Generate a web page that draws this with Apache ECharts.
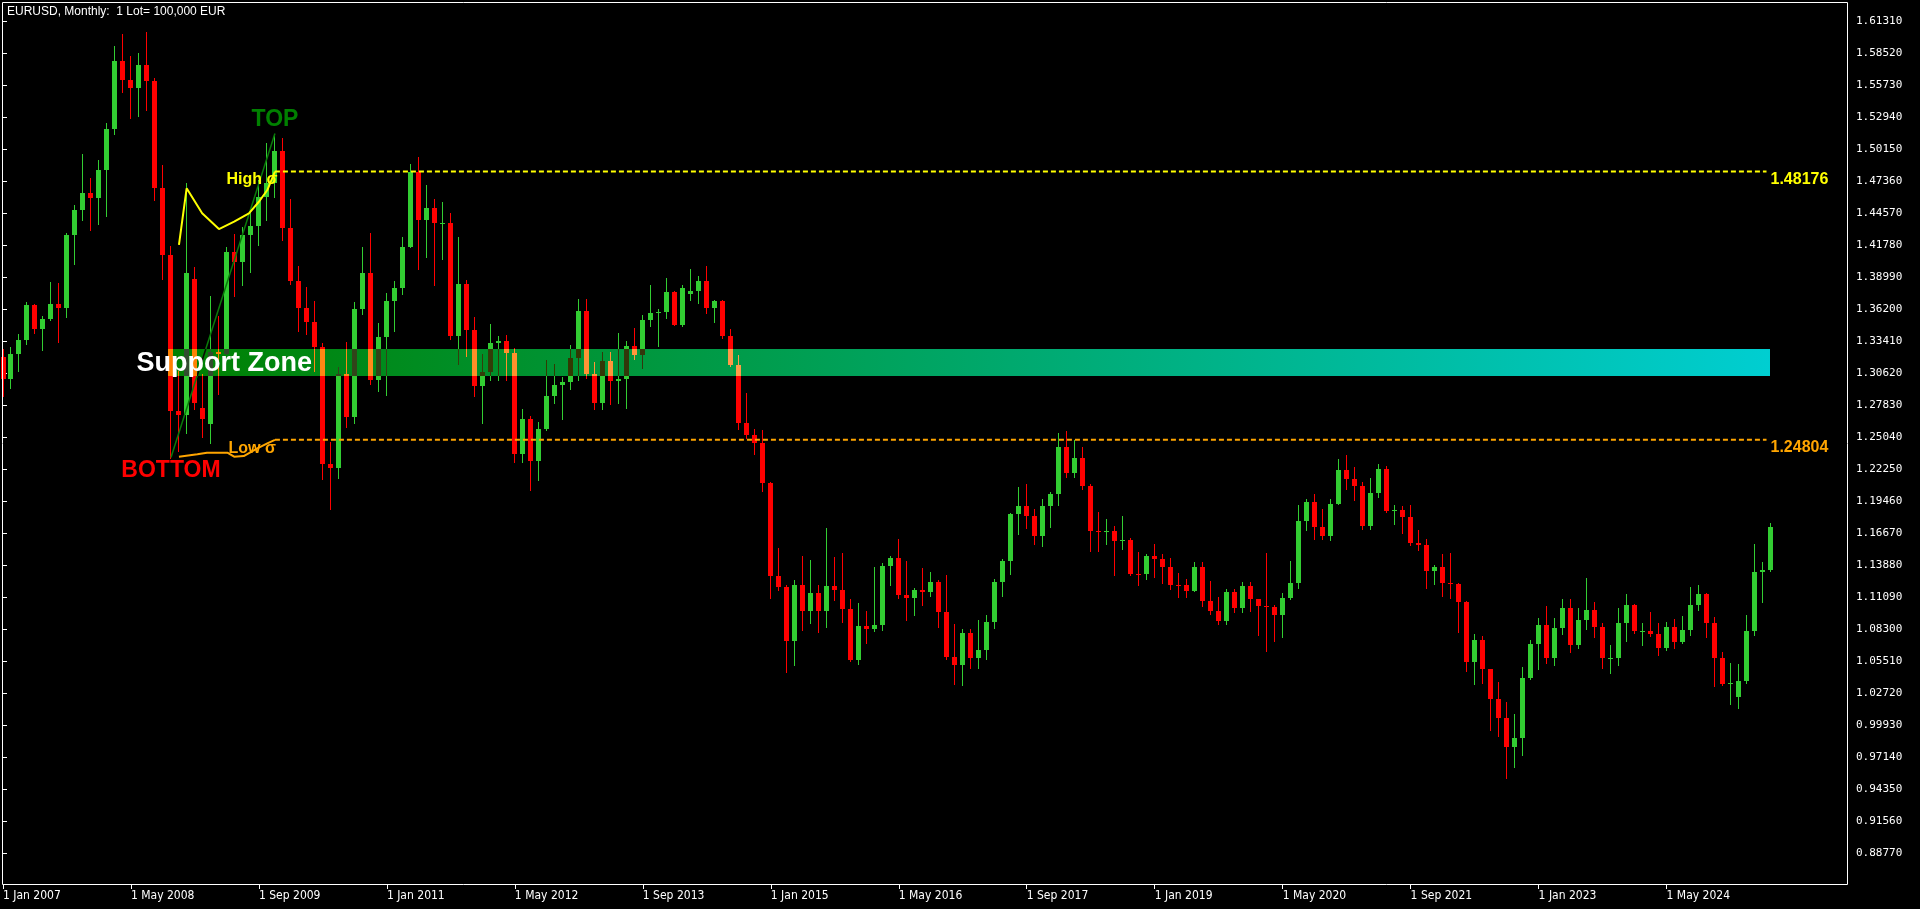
<!DOCTYPE html>
<html><head><meta charset="utf-8">
<script src="https://cdn.jsdelivr.net/npm/echarts@6/dist/echarts.min.js"></script>
<style>html,body{margin:0;padding:0;background:#000;overflow:hidden}#c{width:1920px;height:909px}</style>
</head><body><div id="c"></div>
<script>
// ---- EURUSD monthly, Jan 2007 .. Jun 2025 (index 0 = Jan 2007) ----
const opens = [
1.3200,1.3010,1.3227,1.3354,1.3652,1.3449,1.3532,1.3667,1.3627,1.4264,1.4480,1.4630,
1.4590,1.4835,1.5185,1.5784,1.5612,1.5547,1.5750,1.5605,1.4675,1.4090,1.2728,1.2695,
1.3880,1.2760,1.2620,1.3245,1.3232,1.4121,1.4034,1.4261,1.4340,1.4600,1.4720,1.5000,
1.4325,1.3865,1.3625,1.3510,1.3290,1.2268,1.2235,1.3050,1.2680,1.3621,1.3930,1.3000,
1.3380,1.3690,1.3805,1.4160,1.4810,1.4400,1.4500,1.4370,1.4372,1.3385,1.3840,1.3440,
1.2945,1.3075,1.3325,1.3345,1.3235,1.2355,1.2660,1.2295,1.2575,1.2860,1.2958,1.2987,
1.3193,1.3600,1.3050,1.2805,1.3165,1.2995,1.3010,1.3300,1.3220,1.3525,1.3585,1.3590,
1.3770,1.3485,1.3752,1.3775,1.3868,1.3630,1.3690,1.3385,1.3130,1.2630,1.2525,1.2450,
1.2100,1.1290,1.1195,1.0730,1.1215,1.0985,1.1145,1.0985,1.1210,1.1175,1.1005,1.0565,
1.0860,1.0830,1.0870,1.1380,1.1450,1.1130,1.1105,1.1175,1.1155,1.1240,1.0980,1.0590,
1.0520,1.0800,1.0575,1.0650,1.0895,1.1240,1.1425,1.1830,1.1905,1.1815,1.1645,1.1905,
1.2005,1.2415,1.2190,1.2325,1.2080,1.1690,1.1685,1.1690,1.1600,1.1605,1.1312,1.1308,
1.1465,1.1445,1.1370,1.1215,1.1212,1.1165,1.1370,1.1075,1.0985,1.0900,1.1150,1.1015,
1.1210,1.1090,1.1030,1.1025,1.0955,1.1100,1.1235,1.1775,1.1935,1.1720,1.1645,1.1925,
1.2215,1.2135,1.2075,1.1730,1.2020,1.2225,1.1860,1.1870,1.1805,1.1580,1.1560,1.1335,
1.1370,1.1235,1.1220,1.1065,1.0545,1.0735,1.0485,1.0225,1.0055,0.9800,0.9885,1.0405,
1.0705,1.0865,1.0575,1.0840,1.1015,1.0690,1.0910,1.0995,1.0845,1.0575,1.0577,1.0885,
1.1040,1.0815,1.0817,1.0790,1.0665,1.0850,1.0715,1.0825,1.1045,1.1135,1.0885,1.0575,
1.0355,1.0236,1.0375,1.0815,1.1325,1.1345
];
const highs = [
1.3268,1.3290,1.3400,1.3682,1.3665,1.3560,1.3852,1.3845,1.4280,1.4527,1.4967,1.4765,
1.4922,1.5242,1.5911,1.6019,1.5824,1.5847,1.6038,1.5629,1.4872,1.4168,1.3081,1.4721,
1.3985,1.3053,1.3737,1.3560,1.4159,1.4276,1.4334,1.4494,1.4741,1.5063,1.5149,1.5110,
1.4581,1.3995,1.3810,1.3690,1.3320,1.2457,1.3112,1.3333,1.3685,1.4157,1.4282,1.3500,
1.3760,1.3862,1.4249,1.4881,1.4945,1.4697,1.4580,1.4549,1.4456,1.4244,1.3872,1.3550,
1.3231,1.3487,1.3385,1.3390,1.3283,1.2748,1.2692,1.2637,1.3172,1.3140,1.3030,1.3308,
1.3711,1.3711,1.3160,1.3243,1.3243,1.3415,1.3345,1.3452,1.3568,1.3832,1.3620,1.3893,
1.3775,1.3825,1.3967,1.3905,1.3993,1.3700,1.3700,1.3444,1.3222,1.2887,1.2577,1.2570,
1.2110,1.1534,1.1215,1.1260,1.1467,1.1436,1.1216,1.1714,1.1460,1.1495,1.1095,1.1059,
1.0985,1.1376,1.1410,1.1464,1.1616,1.1428,1.1185,1.1366,1.1327,1.1257,1.1300,1.0874,
1.0830,1.0829,1.0906,1.0950,1.1268,1.1445,1.1846,1.2070,1.2092,1.1880,1.1961,1.2023,
1.2537,1.2555,1.2476,1.2414,1.2097,1.1852,1.1791,1.1733,1.1815,1.1625,1.1500,1.1485,
1.1570,1.1488,1.1448,1.1324,1.1265,1.1413,1.1412,1.1250,1.1110,1.1179,1.1176,1.1240,
1.1239,1.1097,1.1496,1.1040,1.1147,1.1422,1.1908,1.1965,1.2011,1.1881,1.1965,1.2310,
1.2349,1.2243,1.2113,1.2150,1.2266,1.2254,1.1909,1.1900,1.1909,1.1692,1.1616,1.1386,
1.1483,1.1495,1.1234,1.1076,1.0787,1.0774,1.0487,1.0368,1.0198,1.0094,1.0497,1.0736,
1.0929,1.1033,1.0929,1.1095,1.1092,1.1012,1.1276,1.1065,1.0882,1.0695,1.1017,1.1140,
1.1046,1.0888,1.0981,1.0885,1.0895,1.0916,1.0948,1.1202,1.1214,1.1142,1.0937,1.0630,
1.0533,1.0528,1.0955,1.1573,1.1419,1.1755
];
const lows = [
1.2865,1.2930,1.3078,1.3316,1.3410,1.3264,1.3528,1.3330,1.3554,1.4014,1.4398,1.4311,
1.4363,1.4427,1.5149,1.5512,1.5285,1.5300,1.5352,1.4572,1.3883,1.2326,1.2384,1.2544,
1.2750,1.2506,1.2455,1.2880,1.3224,1.3737,1.3825,1.3943,1.4174,1.4400,1.4600,1.4218,
1.3839,1.3432,1.3400,1.3083,1.2137,1.1876,1.2150,1.2588,1.2631,1.3580,1.2969,1.2903,
1.2867,1.3430,1.3750,1.4160,1.3967,1.4072,1.3825,1.4060,1.3360,1.3144,1.3207,1.2858,
1.2624,1.3000,1.3002,1.3003,1.2288,1.2286,1.2042,1.2133,1.2562,1.2800,1.2662,1.2927,
1.3000,1.3017,1.2745,1.2747,1.2795,1.2800,1.2755,1.3185,1.3105,1.3474,1.3295,1.3545,
1.3480,1.3475,1.3700,1.3672,1.3586,1.3503,1.3366,1.3125,1.2571,1.2500,1.2358,1.2035,
1.1098,1.1175,1.0458,1.0520,1.0819,1.0880,1.0808,1.0848,1.1087,1.0897,1.0557,1.0523,
1.0711,1.0810,1.0822,1.1217,1.1098,1.0912,1.0952,1.1045,1.1122,1.0852,1.0568,1.0352,
1.0340,1.0494,1.0494,1.0570,1.0839,1.1118,1.1313,1.1662,1.1716,1.1574,1.1554,1.1717,
1.1915,1.2155,1.2155,1.2055,1.1510,1.1508,1.1575,1.1300,1.1525,1.1302,1.1215,1.1270,
1.1289,1.1234,1.1176,1.1110,1.1107,1.1160,1.1028,1.0962,1.0879,1.0879,1.0981,1.0981,
1.0992,1.0778,1.0636,1.0727,1.0766,1.1090,1.1185,1.1696,1.1612,1.1612,1.1603,1.1920,
1.2053,1.1952,1.1704,1.1704,1.1986,1.1847,1.1751,1.1664,1.1563,1.1524,1.1186,1.1221,
1.1121,1.1106,1.0806,1.0470,1.0349,1.0359,0.9952,0.9901,0.9536,0.9632,0.9730,1.0393,
1.0482,1.0533,1.0516,1.0788,1.0635,1.0662,1.0834,1.0766,1.0488,1.0448,1.0516,1.0723,
1.0795,1.0695,1.0767,1.0601,1.0650,1.0668,1.0709,1.0778,1.1001,1.0761,1.0333,1.0343,
1.0178,1.0141,1.0360,1.0778,1.1065,1.1340
];
const closes = [
1.3010,1.3227,1.3354,1.3652,1.3449,1.3532,1.3667,1.3627,1.4264,1.4480,1.4630,1.4590,
1.4835,1.5185,1.5784,1.5612,1.5547,1.5750,1.5605,1.4675,1.4090,1.2728,1.2695,1.3935,
1.2800,1.2665,1.3245,1.3232,1.4121,1.4034,1.4261,1.4340,1.4600,1.4720,1.5000,1.4325,
1.3865,1.3625,1.3510,1.3290,1.2268,1.2235,1.3050,1.2680,1.3621,1.3930,1.3000,1.3380,
1.3690,1.3805,1.4160,1.4810,1.4400,1.4500,1.4370,1.4372,1.3385,1.3840,1.3440,1.2945,
1.3075,1.3325,1.3345,1.3235,1.2355,1.2660,1.2295,1.2575,1.2860,1.2958,1.2987,1.3193,
1.3600,1.3050,1.2805,1.3165,1.2995,1.3010,1.3300,1.3220,1.3525,1.3585,1.3590,1.3770,
1.3485,1.3800,1.3775,1.3868,1.3630,1.3690,1.3385,1.3130,1.2630,1.2525,1.2450,1.2100,
1.1290,1.1195,1.0730,1.1215,1.0985,1.1145,1.0985,1.1210,1.1175,1.1005,1.0565,1.0860,
1.0830,1.0870,1.1380,1.1450,1.1130,1.1105,1.1175,1.1155,1.1240,1.0980,1.0590,1.0520,
1.0800,1.0575,1.0650,1.0895,1.1240,1.1425,1.1830,1.1905,1.1815,1.1645,1.1905,1.2005,
1.2415,1.2190,1.2325,1.2080,1.1690,1.1685,1.1690,1.1600,1.1605,1.1310,1.1308,1.1465,
1.1445,1.1370,1.1215,1.1212,1.1165,1.1370,1.1075,1.0985,1.0900,1.1150,1.1015,1.1210,
1.1090,1.1030,1.1025,1.0955,1.1100,1.1235,1.1775,1.1935,1.1720,1.1645,1.1925,1.2215,
1.2135,1.2075,1.1730,1.2020,1.2225,1.1860,1.1870,1.1805,1.1580,1.1560,1.1335,1.1370,
1.1235,1.1220,1.1065,1.0545,1.0735,1.0485,1.0225,1.0055,0.9800,0.9885,1.0405,1.0705,
1.0865,1.0575,1.0840,1.1015,1.0690,1.0910,1.0995,1.0845,1.0575,1.0577,1.0885,1.1040,
1.0815,1.0817,1.0790,1.0665,1.0850,1.0715,1.0825,1.1045,1.1135,1.0885,1.0575,1.0355,
1.0362,1.0375,1.0815,1.1325,1.1345,1.1720
];

// time axis ticks (candle index) and labels
const timeTickIndex = [0,16,32,48,64,80,96,112,128,144,160,176,192,208];
const timeTickLabels = ['1 Jan 2007','1 May 2008','1 Sep 2009','1 Jan 2011','1 May 2012','1 Sep 2013',
  '1 Jan 2015','1 May 2016','1 Sep 2017','1 Jan 2019','1 May 2020','1 Sep 2021','1 Jan 2023','1 May 2024'];
// price axis tick labels
const priceTicks = [1.61310,1.58520,1.55730,1.52940,1.50150,1.47360,1.44570,1.41780,1.38990,1.36200,
  1.33410,1.30620,1.27830,1.25040,1.22250,1.19460,1.16670,1.13880,1.11090,1.08300,1.05510,1.02720,
  0.99930,0.97140,0.94350,0.91560,0.88770];

// indicator objects
const bottomIndex = 21, topIndex = 34, lastIndex = 221;
const highLevel = 1.48176, lowLevel = 1.24804;
const levelEndIndex = 220.5;
const zoneTop = 1.3270, zoneBottom = 1.3040;
const highSigmaX = [22.0, 22.96, 24.9, 27.0, 28.9, 30.75, 32.0, 33.05, 34.0];
const highSigmaY = [1.4178, 1.4672, 1.4454, 1.4317, 1.4381, 1.4454, 1.4555, 1.4657, 1.48176];
const lowSigmaX = [22.0, 24.3, 25.5, 28.05, 28.9, 30.1, 31.8, 33.05, 34.0];
const lowSigmaY = [1.2333, 1.2354, 1.2368, 1.2368, 1.2333, 1.2339, 1.2406, 1.2450, 1.24804];

// ---------------------------------------------------------------
const GREEN_RGB = [50, 205, 50], RED_RGB = [255, 0, 0], TREND_RGB = [10, 122, 10];
const ZONE_L = [0, 128, 0], ZONE_R = [0, 206, 209];
const rgb = a => 'rgb(' + a.map(v => Math.round(v)).join(',') + ')';
const GREEN = rgb(GREEN_RGB), RED = rgb(RED_RGB);
const candleData = opens.map((o, i) => [i, o, highs[i], lows[i], closes[i]]);
const zip = (xs, ys) => xs.map((x, i) => [x, ys[i]]);

const chart = echarts.init(document.getElementById('c'), null, {renderer: 'canvas'});

function candleGeom(api, k) {
  const o = opens[k], c = closes[k];
  const pO = api.coord([k, o]), pC = api.coord([k, c]);
  const pH = api.coord([k, highs[k]]), pL = api.coord([k, lows[k]]);
  const x = Math.floor(pO[0]) + 0.5;
  const yTop = Math.round(Math.min(pO[1], pC[1]));
  const yBot = Math.round(Math.max(pO[1], pC[1]));
  return {x, yTop, bh: Math.max(1, yBot - yTop), yH: Math.round(pH[1]), yL: Math.round(pL[1]) + 1,
    bull: c > o};
}

function renderCandle(params, api) {
  const g = candleGeom(api, api.value(0));
  const col = g.bull ? GREEN : RED;
  return {type: 'group', children: [
    {type: 'line', shape: {x1: g.x, y1: g.yH, x2: g.x, y2: g.yL}, style: {stroke: col, lineWidth: 1}},
    {type: 'rect', shape: {x: g.x - 2.5, y: g.yTop, width: 5, height: g.bh}, style: {fill: col}}
  ]};
}

// Zone drawn on top; whatever lies under it shows with a "difference" colour, as in the terminal
function renderZone(params, api) {
  const p1 = api.coord([bottomIndex, zoneTop]);
  const p2 = api.coord([lastIndex, zoneBottom]);
  const x1 = Math.floor(p1[0]), x2 = Math.floor(p2[0]);
  const y1 = Math.round(p1[1]), y2 = Math.round(p2[1]);
  const zoneAt = x => {
    const t = Math.min(1, Math.max(0, (x - x1) / (x2 - x1)));
    return ZONE_L.map((v, i) => v + (ZONE_R[i] - v) * t);
  };
  const diff = (a, x) => rgb(a.map((v, i) => Math.abs(v - zoneAt(x)[i])));
  const children = [{type: 'rect', shape: {x: x1, y: y1, width: x2 - x1, height: y2 - y1},
    style: {fill: new echarts.graphic.LinearGradient(0, 0, 1, 0, [
      {offset: 0, color: rgb(ZONE_L)}, {offset: 1, color: rgb(ZONE_R)}])}}];
  // trend line segment inside the zone
  const a = api.coord([bottomIndex, lows[bottomIndex]]), b = api.coord([topIndex, highs[topIndex]]);
  const xAtY = y => a[0] + (y - a[1]) * (b[0] - a[0]) / (b[1] - a[1]);
  children.push({type: 'line', shape: {x1: xAtY(y2), y1: y2, x2: xAtY(y1), y2: y1},
    style: {stroke: diff(TREND_RGB, xAtY((y1 + y2) / 2)), lineWidth: 1.5}});
  // candle pieces inside the zone
  for (let k = bottomIndex - 1; k <= lastIndex; k++) {
    const g = candleGeom(api, k);
    if (g.x < x1 || g.x > x2) continue;
    const base = g.bull ? GREEN_RGB : RED_RGB;
    const col = diff(base, g.x);
    const wt = Math.max(g.yH, y1), wb = Math.min(g.yL, y2);
    if (wb > wt) children.push({type: 'rect', shape: {x: g.x - 0.5, y: wt, width: 1, height: wb - wt}, style: {fill: col}});
    const bt = Math.max(g.yTop, y1), bb = Math.min(g.yTop + g.bh, y2);
    if (bb > bt) children.push({type: 'rect', shape: {x: g.x - 2.5, y: bt, width: 5, height: bb - bt}, style: {fill: col}});
  }
  return {type: 'group', children};
}

const FONT = '"Liberation Sans", Arial, sans-serif';
function renderNotes(params, api) {
  const top = api.coord([topIndex, highs[topIndex]]);
  const bot = api.coord([bottomIndex, lows[bottomIndex]]);
  const hi = api.coord([topIndex, highLevel]);
  const lo = api.coord([topIndex, lowLevel]);
  const hiEnd = api.coord([lastIndex, highLevel]);
  const loEnd = api.coord([lastIndex, lowLevel]);
  const z1 = api.coord([bottomIndex, zoneTop]);
  const z2 = api.coord([bottomIndex, zoneBottom]);
  const t = (text, x, y, fill, font, align) => ({type: 'text',
    style: {text, x, y, fill, font, align, verticalAlign: 'middle'}});
  return {type: 'group', children: [
    t('TOP', top[0], top[1] - 13.5, '#008000', 'bold 23px ' + FONT, 'center'),
    t('BOTTOM', bot[0], bot[1] + 13.5, '#FF0000', 'bold 23px ' + FONT, 'center'),
    t('High σ', hi[0] + 2.5, hi[1] + 8, '#FFFF00', 'bold 16px ' + FONT, 'right'),
    t('Low σ', lo[0] + 1, lo[1] + 9, '#FFA500', 'bold 16px ' + FONT, 'right'),
    t(highLevel.toFixed(5), hiEnd[0], hiEnd[1] + 8.5, '#FFFF00', 'bold 16px ' + FONT, 'left'),
    t(lowLevel.toFixed(5), loEnd[0], loEnd[1] + 8, '#FFA500', 'bold 16px ' + FONT, 'left'),
    t('Support Zone', Math.floor(z1[0]) - 33.5, (z1[1] + z2[1]) / 2 + 1.5, '#FFFFFF', 'bold 27px ' + FONT, 'left')
  ]};
}

const lineBase = {type: 'line', symbol: 'none', silent: true, animation: false};

const option = {
  backgroundColor: '#000000',
  animation: false,
  grid: {left: 2, top: 2, width: 1846, height: 882, show: false},
  xAxis: {
    type: 'value', min: -0.0625, max: 230.6875,
    axisLine: {show: false}, splitLine: {show: false},
    axisTick: {show: true, customValues: timeTickIndex, length: 5, lineStyle: {color: '#FFFFFF', width: 1}},
    axisLabel: {customValues: timeTickIndex, color: '#FFFFFF', align: 'left', margin: 6,
      fontFamily: '"DejaVu Sans Condensed", "DejaVu Sans", sans-serif', fontSize: 12,
      formatter: v => timeTickLabels[timeTickIndex.indexOf(Math.round(v))] || ''}
  },
  yAxis: {
    type: 'value', position: 'right', min: 0.86097, max: 1.62954, scale: true,
    axisLine: {show: false}, splitLine: {show: false},
    axisTick: {show: true, customValues: priceTicks, length: 4, lineStyle: {color: '#FFFFFF', width: 1}},
    axisLabel: {customValues: priceTicks, color: '#FFFFFF', margin: 8,
      fontFamily: '"DejaVu Sans Mono", monospace', fontSize: 11,
      formatter: v => v.toFixed(5)}
  },
  graphic: [
    {type: 'rect', silent: true, z: 100, shape: {x: 2.5, y: 2.5, width: 1845, height: 882},
      style: {fill: null, stroke: '#FFFFFF', lineWidth: 1}},
    {type: 'text', silent: true, z: 100, left: 7, top: 6,
      style: {text: 'EURUSD, Monthly:  1 Lot= 100,000 EUR', fill: '#FFFFFF',
        font: '12px "Liberation Sans", Arial, sans-serif'}}
  ],
  series: [
    {type: 'custom', name: 'EURUSD', data: candleData, renderItem: renderCandle, z: 2, silent: true,
      encode: {x: 0, y: [1, 2, 3, 4]}, clip: false},
    Object.assign({}, lineBase, {name: 'trend', z: 3, data: [[bottomIndex, lows[bottomIndex]], [topIndex, highs[topIndex]]],
      lineStyle: {color: rgb(TREND_RGB), width: 1.5}}),
    {type: 'custom', name: 'zone', data: [[bottomIndex, zoneTop]], renderItem: renderZone, z: 4, silent: true, clip: false},
    Object.assign({}, lineBase, {name: 'highSigma', z: 5, data: zip(highSigmaX, highSigmaY),
      lineStyle: {color: '#FFFF00', width: 2}}),
    Object.assign({}, lineBase, {name: 'lowSigma', z: 5, data: zip(lowSigmaX, lowSigmaY),
      lineStyle: {color: '#FFA500', width: 2}}),
    Object.assign({}, lineBase, {name: 'highLevel', z: 5, data: [[topIndex, highLevel], [levelEndIndex, highLevel]],
      lineStyle: {color: '#FFFF00', width: 2, type: [5, 3]}}),
    Object.assign({}, lineBase, {name: 'lowLevel', z: 5, data: [[topIndex, lowLevel], [levelEndIndex, lowLevel]],
      lineStyle: {color: '#FFA500', width: 2, type: [5, 3]}}),
    {type: 'custom', name: 'notes', data: [[topIndex, highLevel]], renderItem: renderNotes, z: 6, silent: true, clip: false}
  ]
};
chart.setOption(option);
</script>
</body></html>
